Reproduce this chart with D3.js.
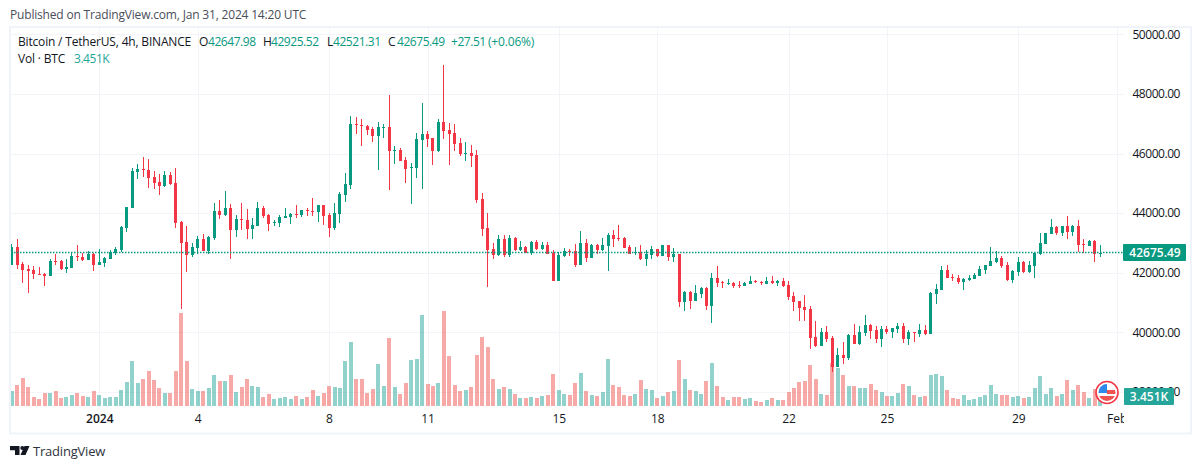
<!DOCTYPE html>
<html>
<head>
<meta charset="utf-8">
<script src="https://cdn.jsdelivr.net/npm/d3@7"></script>
<style>
html, body { margin: 0; padding: 0; background: #fff; overflow: hidden; }
text { font-family: "Open Sans", sans-serif; }
</style>
</head>
<body>
<script>
// 4h candles, Dec 29 2023 (first bar) to Jan 31 2024 12:00
var opens = [42244,42849,42278,42110,42077,41965,41942,41875,42379,42379,42110,42144,42547,42513,42412,42614,42244,42312,42446,42647,
  42748,43486,44157,45366,45466,45433,45198,45030,44896,45265,44996,43688,43016,42580,42815,43117,42714,43151,44057,43923,
  44157,43419,43788,43755,43453,43553,44157,43923,43665,43654,43822,43856,43957,43923,44091,44057,44024,44259,43923,43487,
  43957,44594,44930,46977,46944,46910,46809,46574,46843,46876,46071,46105,45769,45500,45500,46440,46641,46507,46071,47044,
  46776,46675,46339,45970,46004,45937,44460,43487,42782,42581,43118,42581,43151,42748,42849,42648,43017,42782,42916,42648,
  41708,42547,42715,42715,42245,42984,42480,42916,42749,42883,43252,43151,43151,42849,42648,42681,42447,42581,42782,42547,
  42916,42514,42614,41003,41339,41037,41272,41473,40869,41809,41675,41608,41641,41574,41540,41608,41708,41675,41608,41708,
  41641,41708,41574,41205,41037,40836,40769,39829,39527,39997,39795,38821,39224,39123,39895,39593,39962,40231,40063,39761,
  40096,39996,40096,40197,39761,39996,39929,40063,39929,41271,41405,42077,41842,41808,41674,41741,41775,41875,42077,42211,
  42345,42479,42245,41741,42010,42345,42010,42211,42614,42949,43285,43520,43318,43553,43352,43553,42949,42882,43050,42647.98]
var highs = [42949,43117,42345,42244,42211,42177,41976,42446,42614,42412,42446,42681,42916,42647,42714,42647,42781,42513,42748,42849,
  43553,44191,45500,45634,45869,45802,45399,45299,45399,45366,45500,43721,43553,42983,43218,43285,43218,44325,44426,44728,
  44292,43923,44325,44124,43822,44359,44225,43956,43755,43923,44157,43990,44259,44091,44158,44494,44259,44259,43990,44326,
  44695,45333,47246,47212,47145,46944,46876,47044,46977,47950,46239,46172,45870,45668,46675,47682,46742,46507,47145,48957,
  47011,46977,46507,46373,46272,46105,44661,43990,42983,43252,43252,43252,43185,43050,42883,43050,43084,43017,43017,42749,
  42681,42816,42782,42950,43386,43118,42950,42950,43151,43319,43420,43588,43185,42916,42849,42916,42749,42883,42782,42916,
  42916,42816,42614,41373,41373,41574,41507,41507,41977,42212,41708,41775,41675,41708,41675,41876,41742,41708,41842,41876,
  41742,41809,41708,41339,41037,41238,40869,40366,40131,40198,39862,39459,39660,39929,40264,40197,40567,40264,40197,40197,
  40197,40130,40298,40298,40063,39996,40264,40231,41338,41607,42211,42245,41943,41909,41808,41909,41976,42211,42245,42849,
  42714,42547,42345,42077,42513,42379,42379,42681,43318,43318,43788,43553,43553,43889,43587,43755,43117,43084,43084,42925.52]
var lows = [42244,42110,41640,41305,41797,41942,41540,41875,42244,42077,41976,42144,42379,42379,42412,42043,42244,42177,42446,42580,
  42681,43352,44157,45131,45198,44829,44795,44594,44862,44929,43486,40768,42010,42513,42614,42714,42614,43083,43788,43889,
  42446,43184,43419,43117,43117,43553,43822,43386,43553,43520,43822,43621,43822,43856,43889,43889,43688,43587,43185,43420,
  43655,44359,44796,46641,46239,46608,46373,45433,46507,44762,45635,45735,44997,44292,45165,44796,46205,45601,46037,46474,
  45601,46071,45903,45735,45534,44326,43218,41507,42446,42547,42514,42514,42715,42715,42648,42581,42748,42748,42614,41708,
  41708,42514,42547,42178,42245,42346,42480,42614,42715,42044,42849,43051,42816,42614,42581,42413,42212,42447,42514,42547,
  42379,42346,40836,40701,40769,41037,41138,40735,40299,41507,41473,41574,41473,41473,41540,41608,41641,41574,41608,41608,
  41540,41507,41071,40701,40366,40366,39426,39493,39527,39661,38654,38821,38922,39056,39593,39560,39862,39761,39627,39493,
  39929,39795,39962,39627,39560,39660,39828,39895,39929,40936,41405,41808,41708,41607,41405,41708,41775,41875,41943,42211,
  42312,42144,41708,41640,41875,41976,41976,41808,42580,42949,43285,43251,43218,43117,43218,42681,42647,42882,42345,42521.31]
var closes = [42849,42244,42077,42043,41942,41942,41875,42379,42345,42110,42177,42547,42513,42412,42614,42244,42345,42479,42681,42781,
  43520,44191,45399,45466,45433,45164,44996,44896,45265,44963,43654,42983,42580,42849,43117,42714,43184,44057,43923,44157,
  43419,43788,43755,43453,43587,44157,43889,43621,43699,43855,43889,43957,43923,44091,44057,44024,44259,43889,43487,43990,
  44628,44964,46977,46944,46910,46776,46574,46876,46876,46071,46105,45735,45467,45534,46474,46641,46474,46071,47044,46742,
  46641,46306,45970,46004,45903,44427,43453,42748,42581,43118,42581,43151,42748,42849,42648,43017,42782,42916,42614,41708,
  42581,42715,42681,42245,42984,42480,42916,42749,42916,43252,43118,43118,42816,42614,42681,42447,42614,42782,42547,42916,
  42514,42614,41003,41339,41037,41305,41473,40869,41809,41641,41641,41641,41540,41540,41641,41708,41675,41641,41708,41641,
  41708,41540,41171,41003,40802,40735,39795,39527,39997,39762,38822,39224,39123,39895,39593,39996,40231,40030,39761,40096,
  39996,40130,40197,39761,39996,39962,40063,39929,41305,41439,42077,41808,41808,41674,41775,41808,41909,42110,42245,42379,
  42479,42211,41741,42043,42345,42010,42245,42647,42983,43318,43520,43318,43553,43352,43553,42916,42916,43050,42614,42675.49]
// volume in thousands of BTC
var volumes = [3.0,4.2,5.6,3.8,1.8,1.4,2.6,2.6,3.0,1.6,1.8,2.2,2.6,2.0,1.8,3.0,2.2,1.6,1.8,1.8,
  3.2,4.8,9.0,4.6,5.4,7.0,5.2,3.6,2.6,2.6,7.0,18.6,9.0,3.4,3.0,3.0,3.6,6.2,5.0,5.0,
  6.2,2.8,3.8,5.4,4.0,3.8,1.8,2.4,1.4,1.6,1.8,1.4,2.0,1.4,1.8,3.2,2.0,2.6,4.0,3.8,
  3.6,9.0,12.8,5.4,5.4,2.6,3.4,8.4,4.0,13.6,3.8,2.4,4.6,9.2,9.4,18.2,4.4,4.0,4.6,19.0,
  10.0,4.2,3.0,3.2,3.8,10.2,13.8,11.8,5.4,3.4,3.8,3.4,2.4,1.6,1.6,1.8,1.6,2.0,2.2,6.4,
  3.2,2.4,2.2,4.6,6.6,3.0,2.2,2.0,2.8,9.4,4.2,3.8,2.2,2.0,2.4,5.2,3.4,3.2,1.6,2.0,
  2.8,3.0,9.2,5.4,3.2,3.0,2.4,5.0,8.6,4.0,1.8,1.2,1.8,1.8,1.4,1.6,1.0,0.8,1.2,1.6,
  1.2,1.2,2.8,3.6,4.8,5.0,8.2,5.4,2.4,2.2,8.6,7.6,6.2,4.0,4.0,3.6,3.6,4.4,3.2,2.8,
  2.0,2.0,2.6,4.4,4.0,2.2,1.8,2.0,6.2,6.4,6.0,3.2,1.6,1.4,2.2,1.2,1.4,1.8,2.2,4.2,
  2.4,2.2,2.2,1.8,2.0,1.6,1.8,3.6,6.0,2.4,3.6,2.0,2.4,5.2,3.2,4.2,2.8,1.6,3.4,3.451]

var priceTicks = [38000, 40000, 42000, 44000, 46000, 48000, 50000]
var timeTickIndex = [16, 34, 58, 76, 100, 118, 142, 160, 184, 202]
var timeTickLabels = ['2024', '4', '8', '11', '15', '18', '22', '25', '29', 'Feb']
var lastPrice = 42675.49
var lastVolume = 3.451

var UP = '#089981', DOWN = '#F23645'
var FRAME = '#f0f3fa', GRID = '#f3f4f8', TEXT = '#131722'
var TIGHT = '-0.18px', TIGHTER = '-0.45px'

var svg = d3.select('body').append('svg')
  .attr('width', 1200).attr('height', 469)
  .style('display', 'block')

var defs = svg.append('defs')
defs.append('clipPath').attr('id', 'pane').append('rect')
  .attr('x', 11).attr('y', 28).attr('width', 1112).attr('height', 378)
defs.append('clipPath').attr('id', 'timeaxis').append('rect')
  .attr('x', 11).attr('y', 406).attr('width', 1113).attr('height', 27)
defs.append('clipPath').attr('id', 'flagclip').append('circle')
  .attr('cx', 1107).attr('cy', 392.5).attr('r', 8.5)

var x = d3.scaleLinear().domain([0, 199]).range([11.8, 1100.3])
var y = d3.scaleLinear().domain([38000, 50000]).range([391.9, 34.3])
var yVol = d3.scaleLinear().domain([0, 19]).range([406, 311])

// frame
svg.append('rect').attr('x', 10).attr('y', 27).attr('width', 1181).attr('height', 406.5)
  .attr('fill', 'none').attr('stroke', FRAME).attr('stroke-width', 2)

// grid
var grid = svg.append('g').attr('shape-rendering', 'crispEdges')
grid.selectAll('.h').data(priceTicks).join('line')
  .attr('x1', 11).attr('x2', 1124)
  .attr('y1', d => Math.round(y(d)) + 0.5).attr('y2', d => Math.round(y(d)) + 0.5)
  .attr('stroke', GRID)
grid.selectAll('.v').data(timeTickIndex).join('line')
  .attr('class', 'v')
  .attr('x1', d => Math.round(x(d)) + 0.5).attr('x2', d => Math.round(x(d)) + 0.5)
  .attr('y1', 28).attr('y2', 407)
  .attr('stroke', GRID)

var pane = svg.append('g').attr('clip-path', 'url(#pane)').attr('shape-rendering', 'crispEdges')

// volume
pane.selectAll('.vol').data(volumes).join('rect')
  .attr('class', 'vol')
  .attr('x', (d, i) => Math.round(x(i) - 2))
  .attr('width', 4)
  .attr('y', d => yVol(d))
  .attr('height', d => yVol(0) - yVol(d))
  .attr('fill', (d, i) => closes[i] >= opens[i] ? '#26a69a' : '#ef5350')
  .attr('fill-opacity', 0.5)

// candles
var candles = pane.selectAll('.candle').data(opens).join('g').attr('class', 'candle')
candles.append('rect')
  .attr('x', (d, i) => Math.round(x(i) - 1.5) + 1)
  .attr('width', 1)
  .attr('y', (d, i) => y(highs[i]))
  .attr('height', (d, i) => y(lows[i]) - y(highs[i]))
  .attr('fill', (d, i) => closes[i] >= opens[i] ? UP : DOWN)
candles.append('rect')
  .attr('x', (d, i) => Math.round(x(i) - 1.5))
  .attr('width', 3)
  .attr('y', (d, i) => y(Math.max(opens[i], closes[i])))
  .attr('height', (d, i) => Math.max(1, Math.abs(y(opens[i]) - y(closes[i]))))
  .attr('fill', (d, i) => closes[i] >= opens[i] ? UP : DOWN)

// last price line
svg.append('line')
  .attr('x1', 11).attr('x2', 1123)
  .attr('y1', Math.floor(y(lastPrice)) + 0.5).attr('y2', Math.floor(y(lastPrice)) + 0.5)
  .attr('stroke', UP).attr('stroke-width', 1.4).attr('stroke-dasharray', '1.5,1.5')

// price axis
var priceAxis = d3.axisRight(y).tickValues(priceTicks).tickSize(0).tickPadding(0)
  .tickFormat(d3.format('.2f'))
var gPrice = svg.append('g').attr('transform', 'translate(1180,0)').call(priceAxis)
gPrice.select('.domain').remove()
gPrice.selectAll('text')
  .attr('text-anchor', 'end').attr('x', 0)
  .attr('font-size', 12).attr('fill', TEXT)
  .style('font-family', '"Open Sans", sans-serif')
  .style('letter-spacing', TIGHTER)

// time axis
var timeAxis = d3.axisBottom(x).tickValues(timeTickIndex).tickSize(0).tickPadding(0)
  .tickFormat((d, i) => timeTickLabels[i])
var gTime = svg.append('g').attr('clip-path', 'url(#timeaxis)')
  .append('g').attr('transform', 'translate(0,414)').call(timeAxis)
gTime.select('.domain').remove()
gTime.selectAll('text')
  .attr('font-size', 12).attr('fill', TEXT)
  .attr('font-weight', d => d === 16 ? 600 : 400)
  .style('font-family', '"Open Sans", sans-serif')

// badges
function badge(x0, x1, y0, y1, color, str, tx) {
  svg.append('rect').attr('x', x0).attr('y', y0).attr('width', x1 - x0).attr('height', y1 - y0)
    .attr('rx', 1).attr('fill', color)
  svg.append('text').attr('x', tx).attr('y', (y0 + y1) / 2 + 4.3).attr('text-anchor', 'middle')
    .attr('font-size', 12).attr('font-weight', 600).attr('fill', '#fff').text(str)
}
badge(1123, 1186, 244, 261, UP, d3.format('.2f')(lastPrice), 1155)
badge(1124, 1174, 388, 405, '#26a69a', d3.format('.3f')(lastVolume) + 'K', 1149)

// flag
var flag = svg.append('g')
flag.append('circle').attr('cx', 1107).attr('cy', 392.5).attr('r', 11).attr('fill', '#fff')
  .attr('stroke', '#F23645').attr('stroke-width', 1.6)
var flagBody = flag.append('g').attr('clip-path', 'url(#flagclip)')
flagBody.append('rect').attr('x', 1098).attr('y', 384).attr('width', 18).attr('height', 17).attr('fill', '#fff')
flagBody.append('rect').attr('x', 1107).attr('y', 390).attr('width', 10).attr('height', 4).attr('fill', '#ef5350')
flagBody.append('rect').attr('x', 1098).attr('y', 396).attr('width', 18).attr('height', 5).attr('fill', '#ef5350')
flagBody.append('rect').attr('x', 1098).attr('y', 384).attr('width', 9).attr('height', 9).attr('fill', '#2e8ae6')

// header and legend
function label(tx, ty, str, color, spacing, size) {
  return svg.append('text').attr('x', tx).attr('y', ty).attr('font-size', size || 12)
    .attr('fill', color).style('letter-spacing', spacing || TIGHT).text(str)
}
label(10, 19, 'Published on TradingView.com, Jan 31, 2024 14:20 UTC', '#4a4e59')
label(18, 46, 'Bitcoin / TetherUS, 4h, BINANCE', TEXT)
label(199, 46, 'O', TEXT); label(208, 46, '42647.98', UP, TIGHTER)
label(263, 46, 'H', TEXT); label(271, 46, '42925.52', UP, TIGHTER)
label(327, 46, 'L', TEXT); label(333, 46, '42521.31', UP, TIGHTER)
label(388, 46, 'C', TEXT); label(397, 46, '42675.49', UP, TIGHTER)
label(451, 46, '+27.51', UP, TIGHTER)
label(488, 46, '(+0.06%)', UP)
label(18, 63, 'Vol · BTC', TEXT); label(74, 63, '3.451K', '#26a69a', TIGHTER)

// logo
var logo = svg.append('g').attr('fill', '#131722')
logo.append('path').attr('d', 'M10 446H19.5V455H15V450.2H10Z')
logo.append('circle').attr('cx', 22.3).attr('cy', 448).attr('r', 2)
logo.append('path').attr('d', 'M24.5 446H29.5L25.5 455H20.5Z')
label(33, 456, 'TradingView', '#2f3440', '-0.2px', 13)
</script>
</body>
</html>
